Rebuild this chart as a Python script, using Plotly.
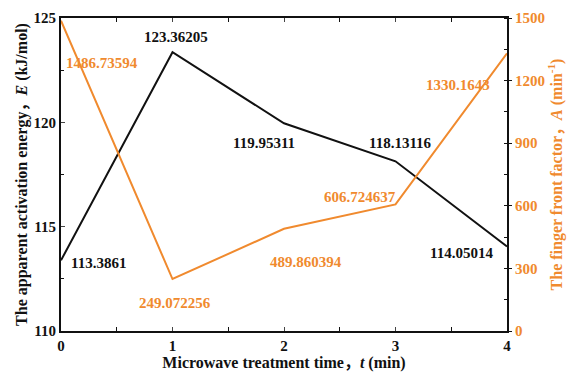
import plotly.graph_objects as go

# Microwave treatment time (min)
time_min = [0, 1, 2, 3, 4]
# Apparent activation energy E (kJ/mol)
energy = [113.3861, 123.36205, 119.95311, 118.13116, 114.05014]
energy_labels = ["113.3861", "123.36205", "119.95311", "118.13116", "114.05014"]
# Pre-exponential (finger front) factor A (min^-1)
factor = [1486.73594, 249.072256, 489.860394, 606.724637, 1330.1643]
factor_labels = ["1486.73594", "249.072256", "489.860394", "606.724637", "1330.1643"]

ORANGE = "#F08A2E"
BLACK = "#111111"
FONT = "Liberation Serif, Times New Roman, Noto Sans CJK SC, serif"

fig = go.Figure()
fig.add_trace(go.Scatter(x=time_min, y=energy, mode="lines",
                         line=dict(color=BLACK, width=2), yaxis="y", showlegend=False))
fig.add_trace(go.Scatter(x=time_min, y=factor, mode="lines",
                         line=dict(color=ORANGE, width=2), yaxis="y2", showlegend=False))

# label centre offsets in pixels (dx, dy) from each point (dy positive = down)
e_off = [(37, 3), (3, -15), (-20, 20), (5, -18), (-46, 7)]
a_off = [(41, 42), (2, 24), (22, 33), (-36, -7), (-49, 32)]

for x, y, t, (dx, dy) in zip(time_min, energy, energy_labels, e_off):
    fig.add_annotation(x=x, y=y, xref="x", yref="y", text=t, showarrow=True,
                       arrowcolor="rgba(0,0,0,0)", ax=dx, ay=dy,
                       font=dict(family=FONT, size=15, color=BLACK, weight="bold"))
for x, y, t, (dx, dy) in zip(time_min, factor, factor_labels, a_off):
    fig.add_annotation(x=x, y=y, xref="x", yref="y2", text=t, showarrow=True,
                       arrowcolor="rgba(0,0,0,0)", ax=dx, ay=dy,
                       font=dict(family=FONT, size=15, color=ORANGE, weight="bold"))

tickfont = dict(family=FONT, size=15, color=BLACK, weight="bold")
fig.update_layout(
    width=569, height=373,
    margin=dict(l=61, r=62, t=18, b=42),
    paper_bgcolor="white", plot_bgcolor="white",
    font=dict(family=FONT),
    xaxis=dict(
        range=[0, 4], tickvals=[0, 1, 2, 3, 4], ticks="inside", ticklen=4,
        showgrid=False, zeroline=False, showline=True, linecolor=BLACK, linewidth=2,
        mirror="allticks", tickfont=tickfont, automargin=False,
        minor=dict(dtick=0.5, ticks="inside", ticklen=3, tickcolor=BLACK),
        title=dict(text="Microwave treatment time，<i>t</i> (min)", standoff=2,
                   font=dict(family=FONT, size=16, color=BLACK, weight="bold")),
    ),
    yaxis=dict(
        range=[110, 125], tickvals=[110, 115, 120, 125], ticks="inside", ticklen=4,
        showgrid=False, zeroline=False, showline=True, linecolor=BLACK, linewidth=2,
        tickfont=tickfont, automargin=False,
        minor=dict(dtick=2.5, ticks="inside", ticklen=3, tickcolor=BLACK),
        title=dict(text="The apparent activation energy，<i>E</i> (kJ/mol)", standoff=2,
                   font=dict(family=FONT, size=16, color=BLACK, weight="bold")),
    ),
    yaxis2=dict(
        range=[0, 1500], tickvals=[0, 300, 600, 900, 1200, 1500], ticks="outside", ticklen=3,
        overlaying="y", side="right", anchor="x", automargin=False,
        showgrid=False, zeroline=False, showline=True, linecolor=BLACK, linewidth=2,
        tickcolor=BLACK,
        tickfont=dict(family=FONT, size=15, color=ORANGE, weight="bold"),
        minor=dict(dtick=150, ticks="inside", ticklen=3, tickcolor=BLACK),
        title=dict(text="The finger front factor，<i>A</i> (min<sup>-1</sup>)", standoff=2,
                   font=dict(family=FONT, size=16, color=ORANGE, weight="bold")),
    ),
)

fig.write_html("out.html")
